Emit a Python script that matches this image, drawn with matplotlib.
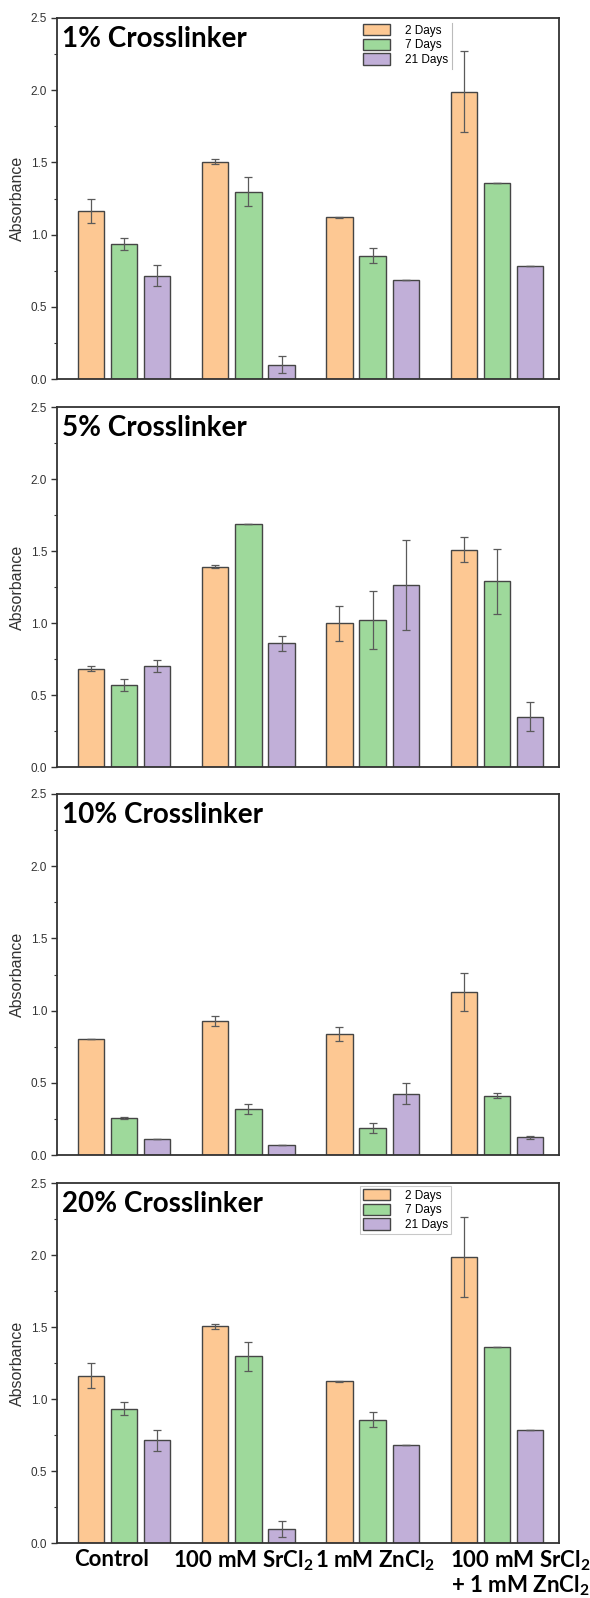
import matplotlib
matplotlib.use('Agg')
import matplotlib.pyplot as plt
import numpy as np
from matplotlib.transforms import ScaledTranslation
from matplotlib.lines import Line2D

plt.rcParams['mathtext.fontset'] = 'custom'
plt.rcParams['mathtext.rm'] = 'Lato:bold'
plt.rcParams['mathtext.it'] = 'Lato:bold'
plt.rcParams['mathtext.bf'] = 'Lato:bold'

# ---------------- data ----------------
groups = ['Control', '100 mM SrCl$_2$', '1 mM ZnCl$_2$', '100 mM SrCl$_2$\n+ 1 mM ZnCl$_2$']
series = ['2 Days', '7 Days', '21 Days']
panel_titles = ['1% Crosslinker', '5% Crosslinker', '10% Crosslinker', '20% Crosslinker']

# 1% crosslinker
p1_2d = [1.162, 1.505, 1.120, 1.990]
p1_7d = [0.933, 1.296, 0.854, 1.359]
p1_21d = [0.715, 0.100, 0.685, 0.785]
p1_2d_err = [0.085, 0.018, 0.003, 0.280]
p1_7d_err = [0.042, 0.100, 0.051, 0.0]
p1_21d_err = [0.073, 0.057, 0.0, 0.0]

# 5% crosslinker
p2_2d = [0.682, 1.392, 0.997, 1.510]
p2_7d = [0.569, 1.686, 1.020, 1.290]
p2_21d = [0.703, 0.858, 1.263, 0.349]
p2_2d_err = [0.017, 0.008, 0.120, 0.087]
p2_7d_err = [0.040, 0.0, 0.200, 0.227]
p2_21d_err = [0.040, 0.055, 0.310, 0.100]

# 10% crosslinker
p3_2d = [0.804, 0.931, 0.836, 1.128]
p3_7d = [0.254, 0.319, 0.189, 0.409]
p3_21d = [0.113, 0.067, 0.425, 0.122]
p3_2d_err = [0.0, 0.035, 0.048, 0.130]
p3_7d_err = [0.006, 0.032, 0.035, 0.017]
p3_21d_err = [0.0, 0.0, 0.074, 0.013]

# 20% crosslinker
p4_2d = [1.160, 1.504, 1.123, 1.987]
p4_7d = [0.933, 1.296, 0.857, 1.359]
p4_21d = [0.714, 0.099, 0.684, 0.788]
p4_2d_err = [0.087, 0.018, 0.003, 0.280]
p4_7d_err = [0.043, 0.100, 0.051, 0.0]
p4_21d_err = [0.074, 0.057, 0.0, 0.0]

yticks = [0.0, 0.5, 1.0, 1.5, 2.0, 2.5]

panels = [
    ([p1_2d, p1_7d, p1_21d], [p1_2d_err, p1_7d_err, p1_21d_err]),
    ([p2_2d, p2_7d, p2_21d], [p2_2d_err, p2_7d_err, p2_21d_err]),
    ([p3_2d, p3_7d, p3_21d], [p3_2d_err, p3_7d_err, p3_21d_err]),
    ([p4_2d, p4_7d, p4_21d], [p4_2d_err, p4_7d_err, p4_21d_err]),
]

# ---------------- style ----------------
colors = ['#FDC893', '#9ED99B', '#C1AFD8']
edge = '#454545'
err_color = '#5a5a5a'
W, H = 590, 1598
ax_left, ax_right = 57, 559
panel_px = [(18, 379), (407, 767), (794, 1155), (1183, 1543)]
legend_panels = {0: False, 3: True}
label_shift_pt = [-9, -3.6, 2, 16.5]

fig = plt.figure(figsize=(W / 100, H / 100), dpi=100)

x = np.arange(1, len(groups) + 1)
bw = 0.212
offs = [-0.267, 0.0, 0.267]

for i, ((vals, errs), (top, bot)) in enumerate(zip(panels, panel_px)):
    ax = fig.add_axes([ax_left / W, 1 - bot / H, (ax_right - ax_left) / W, (bot - top) / H])
    for k in range(3):
        ax.bar(x + offs[k], vals[k], width=bw, color=colors[k], edgecolor=edge,
               linewidth=1.0, label=series[k], zorder=2)
        ax.errorbar(x + offs[k], vals[k], yerr=errs[k], fmt='none', ecolor=err_color,
                    elinewidth=0.9, capsize=3.2, capthick=0.9, zorder=3)
    ax.set_xlim(0.46, 4.5)
    ax.set_ylim(0, 2.5)
    ax.set_yticks(yticks)
    ax.set_yticklabels([f'{t:.1f}' for t in yticks], fontsize=8.5, family='Liberation Sans', color='#333333')
    ax.set_yticks(np.arange(0.25, 2.5, 0.5), minor=True)
    ax.tick_params(axis='y', which='major', direction='out', length=4, width=1.0, pad=3, color='#333333')
    ax.tick_params(axis='y', which='minor', direction='out', length=2, width=0.8, color='#333333')
    ax.tick_params(axis='x', which='both', length=0)
    for s in ax.spines.values():
        s.set_linewidth(1.3)
        s.set_color('#333333')
    ax.set_ylabel('Absorbance', fontsize=11.5, family='Liberation Sans', color='#333333')
    ax.yaxis.set_label_coords(-0.064, 0.5)
    ax.text(0.01, 0.978, panel_titles[i], transform=ax.transAxes, ha='left', va='top',
            fontsize=20, family='Lato', fontweight='bold', color='black')
    ax.set_xticks(x)
    if i == 3:
        ax.set_xticklabels(groups, fontsize=16, family='Lato', fontweight='bold',
                           linespacing=1.0, color='black')
        ax.tick_params(axis='x', pad=4)
        for lab, sh in zip(ax.get_xticklabels(), label_shift_pt):
            lab.set_transform(lab.get_transform() + ScaledTranslation(sh / 72, 0, fig.dpi_scale_trans))
    else:
        ax.set_xticklabels([])
    if i in legend_panels:
        leg = ax.legend(loc='upper left', bbox_to_anchor=(0.603, 0.992), frameon=legend_panels[i],
                        fancybox=False, prop={'family': 'Liberation Sans', 'size': 8.5},
                        handlelength=2.3, handleheight=1.1, labelspacing=0.18, handletextpad=1.3,
                        borderpad=0.25, borderaxespad=0)
        if legend_panels[i]:
            leg.get_frame().set_edgecolor('#bbbbbb')
            leg.get_frame().set_linewidth(0.8)
        else:
            ax.add_line(Line2D([0.786, 0.786], [0.86, 0.985], transform=ax.transAxes,
                               color='#bbbbbb', linewidth=0.8))
        for p in leg.get_patches():
            p.set_edgecolor(edge)

fig.savefig('out.png', dpi=100)
